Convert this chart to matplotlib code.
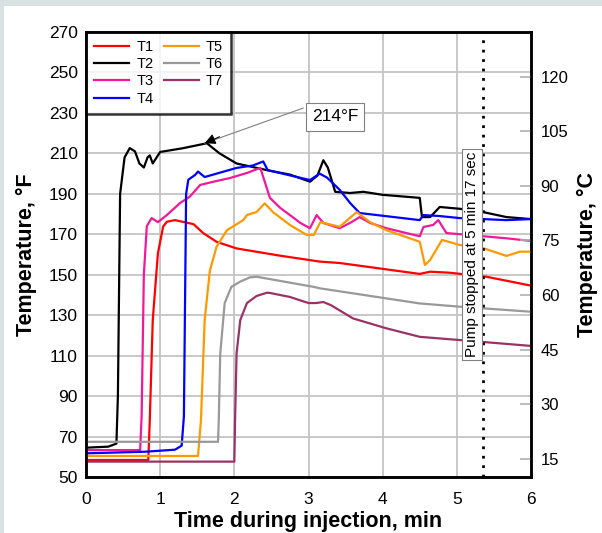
import numpy as np
import matplotlib
matplotlib.use('Agg')
import matplotlib.pyplot as plt
from matplotlib.patches import Rectangle

plt.rcParams['font.family'] = ['Liberation Sans', 'DejaVu Sans']

# time (min) / temperature (F)
t1_t = [0, 0.84, 0.86, 0.90, 0.97, 1.04, 1.09, 1.20, 1.45, 1.58, 1.76, 2.03, 2.62, 3.15, 3.42, 4.50, 4.64, 4.90, 5.40, 6.0]
t1_f = [58.4, 58.4, 78, 127.6, 160.7, 173.8, 176.2, 177, 175, 170.6, 166.3, 163, 159.4, 156.5, 155.8, 150.4, 151.5, 151, 149, 144.6]

t2_t = [0, 0.30, 0.41, 0.43, 0.46, 0.52, 0.59, 0.66, 0.72, 0.78, 0.83, 0.86, 0.90, 1.0, 1.3, 1.63, 1.8, 2.03, 2.44, 2.75, 3.02, 3.12, 3.2, 3.26, 3.36, 3.56, 3.74, 4.0, 4.5, 4.53, 4.64, 4.77, 5.04, 5.35, 5.67, 6.0]
t2_f = [64.5, 65, 66.5, 90, 190, 208, 212.6, 211, 205, 203, 208, 209, 205, 210.7, 212.5, 215, 210, 205, 201.7, 199.5, 196, 199, 206.6, 203, 191, 190.4, 191, 189.5, 188, 178.5, 178.5, 183.5, 182.6, 181, 178.5, 177.5]

t3_t = [0, 0.73, 0.75, 0.78, 0.82, 0.885, 0.97, 1.09, 1.27, 1.40, 1.54, 1.72, 1.94, 2.17, 2.35, 2.41, 2.48, 2.62, 2.75, 2.89, 3.02, 3.11, 3.2, 3.42, 3.56, 3.69, 3.83, 4.05, 4.5, 4.55, 4.68, 4.75, 4.86, 5.18, 5.67, 6.0]
t3_f = [63.3, 63.3, 80, 150, 174, 178, 176, 179.5, 185.5, 188.6, 194.4, 196, 197.8, 200.3, 202.8, 196, 188, 183, 179.5, 175.6, 173, 179.5, 175.6, 173, 175.6, 178.5, 175.6, 173, 169, 173.6, 174.6, 177, 170.6, 169.6, 168, 166.7]

t4_t = [0, 0.8, 1.2, 1.29, 1.32, 1.35, 1.38, 1.47, 1.51, 1.6, 2.03, 2.25, 2.39, 2.45, 3.02, 3.15, 3.25, 3.42, 3.56, 3.69, 4.5, 4.55, 4.77, 5.04, 5.67, 6.0]
t4_f = [61.7, 62.5, 63.5, 65.5, 80, 190, 197, 199.3, 201, 198.3, 202.8, 204, 206, 201.7, 196.8, 200, 198, 192, 185.5, 180.5, 177, 179.5, 179, 178, 177, 177.5]

t5_t = [0, 1.51, 1.55, 1.60, 1.67, 1.76, 1.90, 2.12, 2.17, 2.30, 2.41, 2.52, 2.75, 2.98, 3.07, 3.16, 3.42, 3.65, 3.83, 4.05, 4.5, 4.57, 4.64, 4.8, 5.04, 5.35, 5.67, 5.85, 6.0]
t5_f = [60.4, 60.4, 78, 127.6, 152, 163.8, 172, 177, 179.5, 181, 185.3, 181, 174.6, 169.6, 169.6, 176, 173.7, 181, 176, 172, 166.3, 154.8, 157.3, 167.2, 164.7, 163.2, 159.3, 161.4, 161.4]

t6_t = [0, 1.78, 1.79, 1.81, 1.87, 1.96, 2.08, 2.21, 2.30, 3.07, 3.15, 4.5, 5.04, 6.0]
t6_f = [67.4, 67.4, 78, 111, 136, 144, 146.6, 148.7, 149, 144, 143.3, 135.8, 134.2, 131.7]

t7_t = [0, 2.0, 2.01, 2.03, 2.08, 2.17, 2.30, 2.44, 2.48, 2.75, 3.0, 3.1, 3.2, 3.3, 3.6, 4.05, 4.5, 5.04, 6.0]
t7_f = [57.6, 57.6, 78, 111, 127.6, 136, 139.5, 141.1, 141, 139, 136, 136, 136.5, 135, 128.4, 123.5, 119.3, 117.7, 114.8]

series = [('T1', t1_t, t1_f, '#ff0000'),
          ('T2', t2_t, t2_f, '#000000'),
          ('T3', t3_t, t3_f, '#f0199b'),
          ('T4', t4_t, t4_f, '#0000ff'),
          ('T5', t5_t, t5_f, '#ff9900'),
          ('T6', t6_t, t6_f, '#999999'),
          ('T7', t7_t, t7_f, '#993366')]

yticks_f = np.arange(50, 271, 20)
yticks_c = np.arange(15, 121, 15)
xticks = np.arange(0, 7, 1)
pump_stop = 5.35
peak_t, peak_f = 1.6, 215

fig = plt.figure(figsize=(6.02, 5.33), dpi=100, facecolor='#d8e2e2')
fig.patches.append(Rectangle((4/602, 0), 1, 1 - 6/533, transform=fig.transFigure,
                             facecolor='white', edgecolor='none', zorder=-10))
ax = fig.add_axes([86/602, 1 - 477/533, 445/602, 445/533])

for name, tt, ff, col in series:
    ax.plot(tt, ff, color=col, lw=1.6, label=name, zorder=3)

ax.set_xlim(0, 6)
ax.set_ylim(50, 270)
ax.set_xticks(xticks)
ax.set_yticks(yticks_f)
ax.grid(True, color='#c4c4c4', lw=1.3)
ax.set_axisbelow(True)
ax.tick_params(length=0, labelsize=12.5)
ax.tick_params(axis='x', pad=11)
ax.tick_params(axis='y', pad=6)
for s in ax.spines.values():
    s.set_linewidth(1.8)

ax.axvline(pump_stop, color='black', lw=2, linestyle=(0, (1, 2.4)), zorder=4)
ax.text(5.21, 160, 'Pump stopped at 5 min 17 sec', rotation=90, ha='center', va='center',
        fontsize=11, zorder=5,
        bbox=dict(boxstyle='square,pad=0.2', facecolor='white', edgecolor='#808080', lw=0.8))

ax.annotate('', xy=(peak_t, peak_f), xytext=(2.93, 232.4),
            arrowprops=dict(arrowstyle='-', color='#808080', lw=0.8, shrinkA=0, shrinkB=0), zorder=5)
ax.annotate('', xy=(peak_t, peak_f), xytext=(1.8, 218.2),
            arrowprops=dict(arrowstyle='-|>', color='black', lw=0.8, mutation_scale=16,
                            shrinkA=0, shrinkB=0), zorder=5)
ax.text(3.36, 228, '214°F', ha='center', va='center', fontsize=12.5, zorder=5,
        bbox=dict(boxstyle='square,pad=0.35', facecolor='white', edgecolor='#808080', lw=0.8))

ax.set_xlabel('Time during injection, min', fontsize=15.5, fontweight='bold', labelpad=3)
ax.set_ylabel('Temperature, °F', fontsize=15.5, fontweight='bold', labelpad=8)

leg = ax.legend(loc='upper left', ncol=2, fontsize=10.5, frameon=True, fancybox=False,
                borderaxespad=0, handlelength=2.4, handletextpad=0.5, columnspacing=0.7,
                labelspacing=0.22, borderpad=0.55)
leg.get_frame().set_edgecolor('black')
leg.get_frame().set_linewidth(1.8)
leg.set_zorder(6)

ax2 = ax.twinx()
ax2.set_ylim((50 - 32) / 1.8, (270 - 32) / 1.8)
ax2.set_yticks(yticks_c)
ax2.tick_params(axis='y', direction='in', length=8, width=1.2, color='#b0b0b0',
                labelsize=12, pad=7)
for s in ax2.spines.values():
    s.set_linewidth(1.8)
ax2.set_ylabel('Temperature, °C', fontsize=15.5, fontweight='bold', labelpad=6)

fig.savefig('out.png', dpi=100, facecolor=fig.get_facecolor())
